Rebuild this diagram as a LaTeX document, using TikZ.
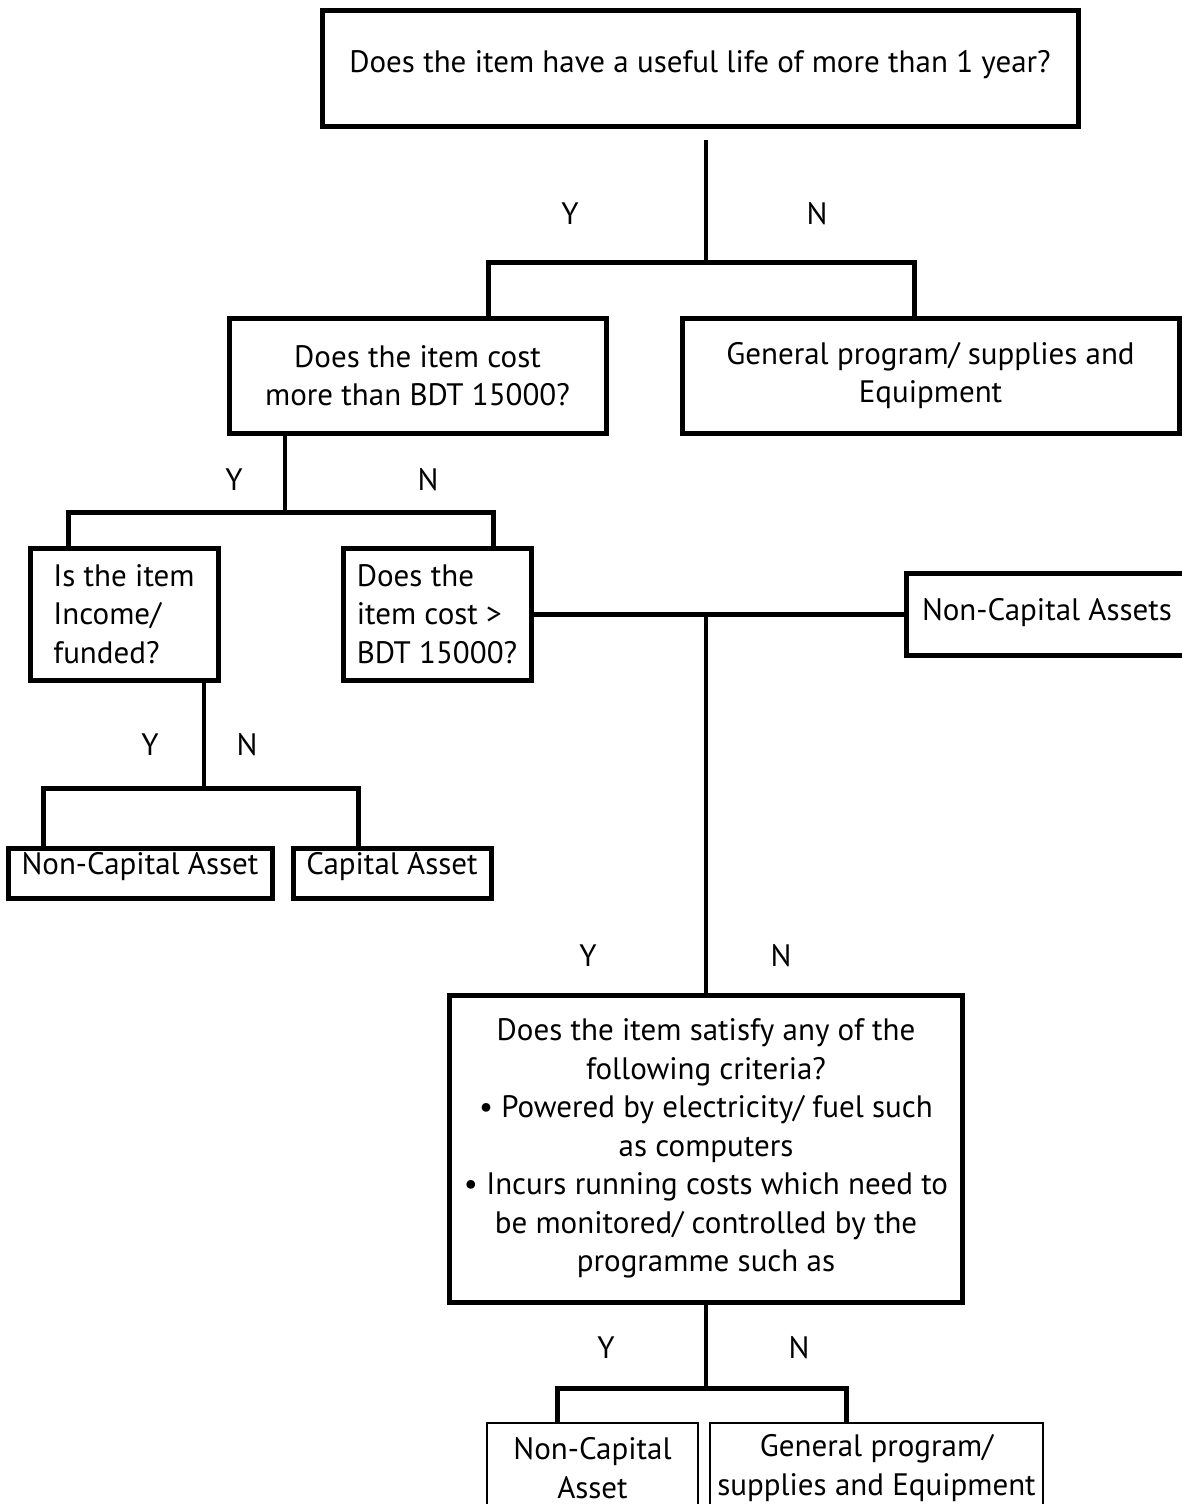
\documentclass[tikz,border=0pt]{standalone}
\usepackage{fontspec}
\setmainfont{PT Sans}
\begin{document}
\begin{tikzpicture}[x=1pt,y=-1pt,
  font=\fontsize{31}{38.5}\selectfont,
  box/.style={draw, line width=5pt, rectangle, inner sep=0pt, align=center},
  thinbox/.style={draw, line width=2pt, rectangle, inner sep=0pt, align=center},
  leftbox/.style={draw, line width=5pt, rectangle, inner sep=0pt, align=left},
  hconn/.style={line width=5pt},
  vconn/.style={line width=4.5pt},
  yn/.style={inner sep=0pt}]
\clip (0,0) rectangle (1182,1504);
\useasboundingbox (0,0) rectangle (1182,1504);

% nodes
\node[box, minimum width=756pt, minimum height=115pt, text height=24pt, text depth=17pt] (q1) at (700,68.5)
  {Does the item have a useful life of more than 1 year?};
\node[box, minimum width=377pt, minimum height=115pt] (q2) at (417.5,375.5)
  {Does the item cost\\more than BDT 15000?};
\node[box, minimum width=497pt, minimum height=115pt] (g1) at (930.5,375.5)
  {General program/ supplies and\\Equipment};
\node[leftbox, minimum width=188pt, minimum height=132pt] (q3) at (124,614)
  {Is the item\\Income/\\funded?};
\node[leftbox, minimum width=188pt, minimum height=132pt] (q4) at (437,614)
  {Does the\\item cost >\\BDT 15000?};
\node[box, minimum width=264pt, minimum height=50pt, text height=24pt, text depth=22pt] (n1) at (140,873)
  {Non-Capital Asset};
\node[box, minimum width=198pt, minimum height=50pt, text height=24pt, text depth=22pt] (c1) at (392,873)
  {Capital Asset};
\node[box, minimum width=282pt, minimum height=82pt, text height=24pt, text depth=12pt] (n2) at (1047,614)
  {Non-Capital Assets};
\node[box, minimum width=513pt, minimum height=307pt] (q5) at (706,1148.5)
  {Does the item satisfy any of the\\following criteria?\\• Powered by electricity/ fuel such\\as computers\\• Incurs running costs which need to\\be monitored/ controlled by the\\programme such as};
\node[thinbox, minimum width=211pt, minimum height=90pt] (n3) at (592.5,1468)
  {Non-Capital\\Asset};
\node[thinbox, minimum width=333pt, minimum height=90pt] (g2) at (876.5,1468)
  {General program/\\supplies and Equipment};

% junctions
\coordinate (j1) at (706,262);
\coordinate (j2) at (285,512);
\coordinate (j3) at (204,788);
\coordinate (j4) at (706,614);
\coordinate (j5) at (706,1388);

% connectors
\draw[vconn] ([xshift=6pt,yshift=-11pt]q1.south) -- (j1);
\draw[hconn] ([xshift=70.5pt]q2.north) |- (j1) -| ([xshift=-16.5pt]g1.north);

\draw[vconn] ([xshift=-132.5pt]q2.south) -- (j2);
\draw[hconn] ([xshift=-56pt]q3.north) |- (j2) -| ([xshift=56pt]q4.north);

\draw[vconn] ([xshift=80pt]q3.south) -- (j3);
\draw[hconn] ([xshift=-97pt]n1.north) |- (j3) -| ([xshift=-34pt]c1.north);

\draw[hconn] (q4.east) -- (n2.west);
\draw[vconn] (j4) -- (q5.north);

\draw[vconn] (q5.south) -- (j5);
\draw[hconn] ([xshift=-35.5pt]n3.north) |- (j5) -| ([xshift=-30.5pt]g2.north);

% Y / N labels
\node[yn] (y1) at (570,214) {Y};
\node[yn] (nn1) at (817,214) {N};
\node[yn] (y2) at (234,480) {Y};
\node[yn] (nn2) at (428,480) {N};
\node[yn] (y3) at (150,745) {Y};
\node[yn] (nn3) at (247,745) {N};
\node[yn] (y4) at (588,956) {Y};
\node[yn] (nn4) at (781,956) {N};
\node[yn] (y5) at (606,1348) {Y};
\node[yn] (nn5) at (799,1348) {N};
\end{tikzpicture}
\end{document}
